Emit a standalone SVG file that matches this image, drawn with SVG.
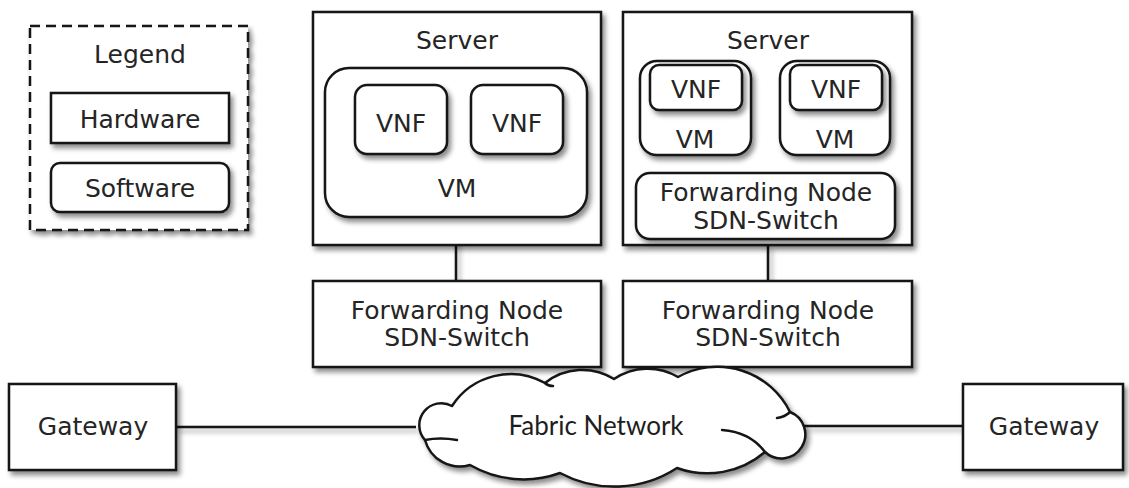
<svg xmlns="http://www.w3.org/2000/svg" width="1129" height="488" viewBox="0 0 1129 488">
  <defs>
    <filter id="shadow" x="-10%" y="-10%" width="130%" height="140%">
      <feDropShadow dx="3" dy="4" stdDeviation="2.5" flood-color="#000" flood-opacity="0.45"/>
    </filter>
    <!-- straight lines have a zero-size bounding box, so their filter region is set in user space -->
    <filter id="lineShadow" filterUnits="userSpaceOnUse" x="0" y="0" width="1129" height="488">
      <feDropShadow dx="3" dy="4" stdDeviation="2.5" flood-color="#000" flood-opacity="0.35"/>
    </filter>
  </defs>
  <style>
    .hw { fill: #fff; stroke: #151515; stroke-width: 2.5; filter: url(#shadow); }
    .sw { fill: #fff; stroke: #151515; stroke-width: 2.5; filter: url(#shadow); }
    .lg { fill: #fff; stroke: #151515; stroke-width: 2.5; stroke-dasharray: 10 6; filter: url(#shadow); }
    .ln { fill: none; stroke: #151515; stroke-width: 2.5; filter: url(#lineShadow); }
    .cl { fill: #fff; stroke: #151515; stroke-width: 2.5; stroke-linejoin: round; filter: url(#shadow); }
    .curl { fill: none; stroke: #151515; stroke-width: 2.5; stroke-linecap: round; }
    text { font-family: "DejaVu Sans", "Liberation Sans", sans-serif; font-size: 25px; fill: #252525; text-anchor: middle; }
    .fab { font-family: "Lato", "Liberation Sans", sans-serif; font-size: 26px; fill: #1e1e1e; }
  </style>

  <rect width="1129" height="488" fill="#fff"/>

  <!-- legend -->
  <g id="legend">
    <rect class="lg" x="30" y="26" width="218" height="204"/>
    <text x="140" y="63">Legend</text>
    <rect class="hw" x="51" y="93" width="178" height="50"/>
    <text x="140" y="128">Hardware</text>
    <rect class="sw" x="51" y="163" width="178" height="49" rx="9"/>
    <text x="140" y="197">Software</text>
  </g>

  <!-- connectors -->
  <g id="connectors">
    <line class="ln" x1="456" y1="217" x2="456" y2="281"/>
    <line class="ln" x1="696" y1="155" x2="696" y2="173"/>
    <line class="ln" x1="835" y1="155" x2="835" y2="173"/>
    <line class="ln" x1="768" y1="245" x2="768" y2="281"/>
    <line class="ln" x1="176" y1="427" x2="416" y2="427"/>
    <line class="ln" x1="800" y1="426" x2="963" y2="426"/>
  </g>

  <!-- server 1 -->
  <g id="server1">
    <rect class="hw" x="313" y="12" width="288" height="233"/>
    <text x="457" y="49">Server</text>
    <g id="vm1">
      <rect class="sw" x="325" y="68" width="262" height="149" rx="24"/>
      <text x="457" y="197">VM</text>
    </g>
    <g id="vnf1a">
      <rect class="sw" x="355" y="85" width="92" height="69" rx="12"/>
      <text x="401" y="132">VNF</text>
    </g>
    <g id="vnf1b">
      <rect class="sw" x="471" y="85" width="92" height="69" rx="12"/>
      <text x="517" y="132">VNF</text>
    </g>
  </g>

  <!-- server 2 -->
  <g id="server2">
    <rect class="hw" x="623" y="12" width="289" height="233"/>
    <text x="768" y="49">Server</text>
    <g id="vm2a">
      <rect class="sw" x="640" y="61" width="111" height="94" rx="17"/>
      <rect class="sw" x="650" y="65" width="92" height="45" rx="9"/>
      <text x="696" y="98">VNF</text>
      <text x="695" y="148">VM</text>
    </g>
    <g id="vm2b">
      <rect class="sw" x="780" y="61" width="110" height="94" rx="17"/>
      <rect class="sw" x="790" y="65" width="92" height="45" rx="9"/>
      <text x="836" y="98">VNF</text>
      <text x="835" y="148">VM</text>
    </g>
    <g id="vswitch">
      <rect class="sw" x="636" y="173" width="259" height="66" rx="14"/>
      <text x="766" y="201">Forwarding Node</text>
      <text x="766" y="229">SDN-Switch</text>
    </g>
  </g>

  <!-- physical forwarding nodes -->
  <g id="fn1">
    <rect class="hw" x="313" y="281" width="288" height="86"/>
    <text x="457" y="319">Forwarding Node</text>
    <text x="457" y="346">SDN-Switch</text>
  </g>
  <g id="fn2">
    <rect class="hw" x="623" y="281" width="289" height="86"/>
    <text x="768" y="319">Forwarding Node</text>
    <text x="768" y="346">SDN-Switch</text>
  </g>

  <!-- fabric cloud -->
  <g id="fabric">
    <path class="cl" d="M 425,440
      A 22 22 0 0 1 452,406
      A 70 70 0 0 1 545,383
      A 60 60 0 0 1 614,379
      A 60 60 0 0 1 678,377
      A 81 81 0 0 1 790,412
      A 24 24 0 1 1 765,452
      A 89 89 0 0 1 677,468
      A 115 115 0 0 1 560,473
      A 107 107 0 0 1 470,465
      A 36 36 0 0 1 425,440 Z"/>
    <path class="curl" d="M 425,440 Q 440,437 457,440"/>
    <path class="curl" d="M 545,383 q 3,3 8,3"/>
    <path class="curl" d="M 790,412 Q 785,417 777,418"/>
    <path class="curl" d="M 765,452 Q 750,432 722,430"/>
    <text class="fab" x="596" y="435">Fabric Network</text>
  </g>

  <!-- gateways -->
  <g id="gw-left">
    <rect class="hw" x="9" y="384" width="167" height="86"/>
    <text x="93" y="435">Gateway</text>
  </g>
  <g id="gw-right">
    <rect class="hw" x="963" y="384" width="160" height="86"/>
    <text x="1044" y="435">Gateway</text>
  </g>
</svg>
